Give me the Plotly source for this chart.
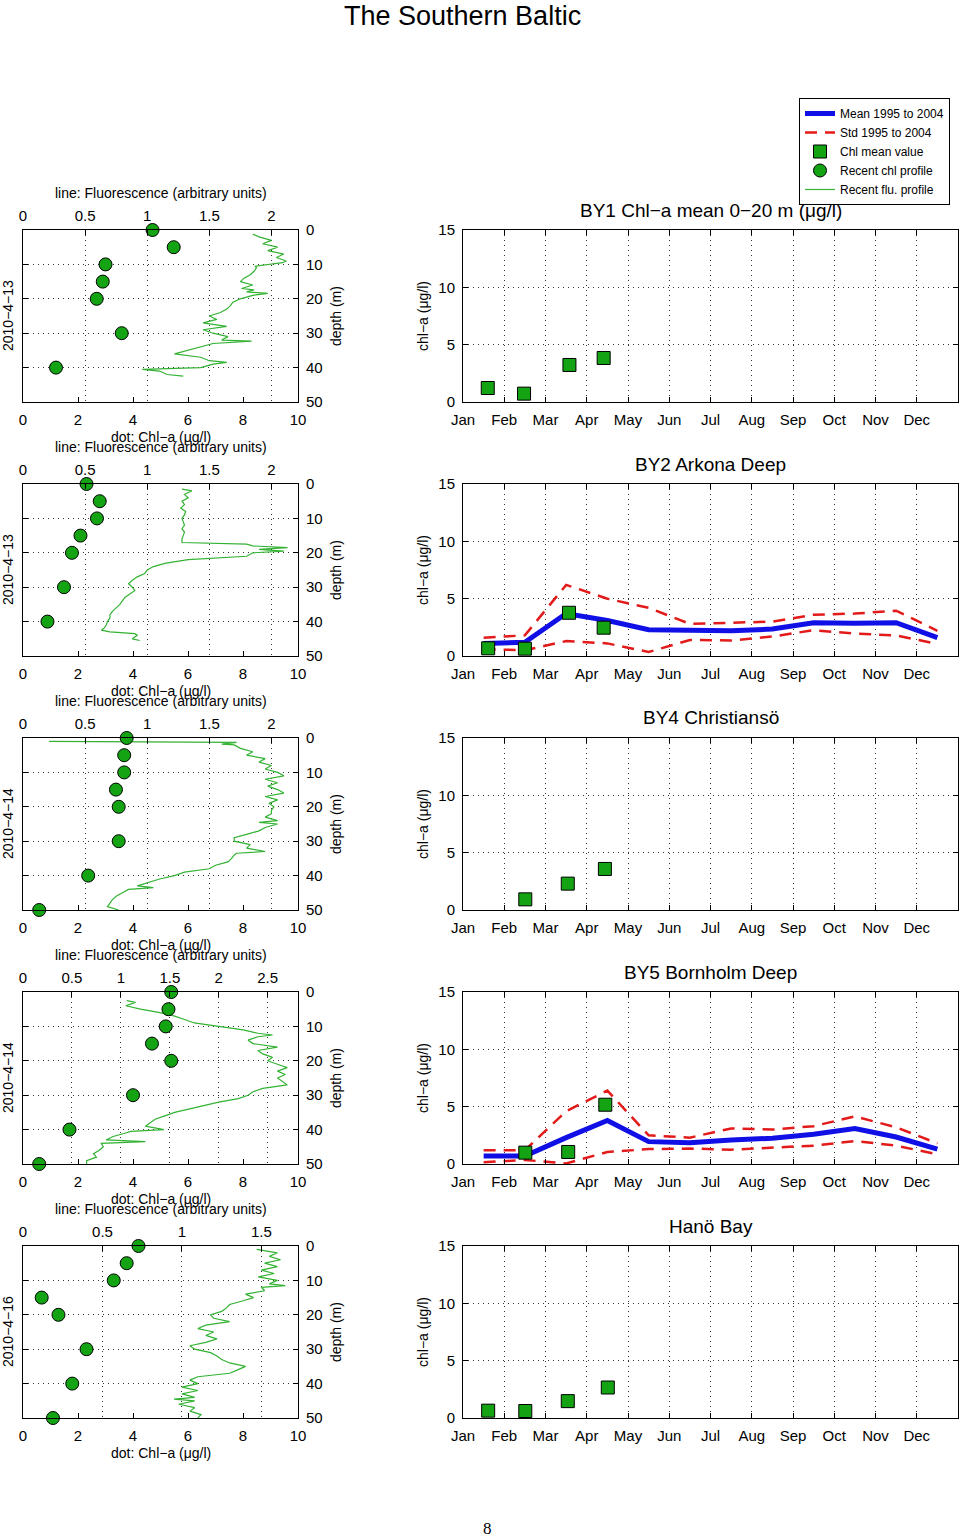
import plotly.graph_objects as go

W, H = 960, 1538

# ---------------- data ----------------
months = ["Jan", "Feb", "Mar", "Apr", "May", "Jun", "Jul", "Aug", "Sep", "Oct", "Nov", "Dec"]
month_pos = [0, 1, 2, 3, 4, 5, 6, 7, 8, 9, 10, 11]
month_mid = [0.5, 1.5, 2.5, 3.5, 4.5, 5.5, 6.5, 7.5, 8.5, 9.5, 10.5, 11.5]

station_titles = ["BY1 Chl−a mean 0−20 m (μg/l)", "BY2 Arkona Deep", "BY4 Christiansö",
                  "BY5 Bornholm Deep", "Hanö Bay"]
profile_dates = ["2010−4−13", "2010−4−13", "2010−4−14", "2010−4−14", "2010−4−16"]

# Recent chl profile (dots): depth (m) and Chl-a (µg/l)
chl_depth_1 = [0, 5, 10, 15, 20, 30, 40]
chl_value_1 = [4.71, 5.48, 3.0, 2.9, 2.68, 3.59, 1.2]
chl_depth_2 = [0, 5, 10, 15, 20, 30, 40]
chl_value_2 = [2.31, 2.79, 2.69, 2.09, 1.78, 1.49, 0.89]
chl_depth_3 = [0, 5, 10, 15, 20, 30, 40, 50]
chl_value_3 = [3.77, 3.68, 3.68, 3.38, 3.48, 3.48, 2.37, 0.59]
chl_depth_4 = [0, 5, 10, 15, 20, 30, 40, 50]
chl_value_4 = [5.39, 5.29, 5.19, 4.69, 5.39, 4.0, 1.69, 0.59]
chl_depth_5 = [0, 5, 10, 15, 20, 30, 40, 50]
chl_value_5 = [4.2, 3.77, 3.3, 0.68, 1.29, 2.31, 1.79, 1.09]

# Recent fluorescence profile (lines): depth (m) and fluorescence (arbitrary units)
flu_depth_1 = [1.2, 2, 3, 4, 5, 6, 7, 8, 9, 9.5, 10.5, 11, 12, 13, 14, 15, 16, 17, 17.4, 18, 18.4,
               19, 20, 21, 22, 23, 24, 25, 26, 27, 28, 29, 30, 31, 32, 32.3, 33, 34, 35, 36, 37, 38,
               38.5, 39, 40, 40.5, 41, 42, 42.5]
flu_value_1 = [1.85, 1.9, 2.0, 1.93, 2.05, 1.97, 2.1, 2.04, 2.12, 2.09, 1.87, 1.88, 1.86, 1.83, 1.78,
               1.75, 1.85, 1.76, 1.86, 1.8, 1.97, 1.85, 1.75, 1.69, 1.67, 1.64, 1.59, 1.5, 1.56, 1.45,
               1.64, 1.45, 1.53, 1.65, 1.6, 1.84, 1.53, 1.43, 1.34, 1.22, 1.43, 1.5, 1.64, 1.53, 1.43,
               0.96, 1.1, 1.16, 1.29]
flu_depth_2 = [1.5, 2, 3, 4, 5, 6, 7, 8, 9, 10, 11, 12, 13, 14, 15, 16, 17, 17.5, 18, 18.5, 19, 19.5,
               20, 21, 22, 23, 24, 25, 26, 27, 28, 29, 30, 31, 32, 33, 34, 35, 36, 37, 38, 39, 40, 41,
               42, 42.5, 43, 43.5, 44, 45, 45.5]
flu_value_2 = [1.28, 1.36, 1.3, 1.33, 1.28, 1.3, 1.27, 1.31, 1.3, 1.28, 1.29, 1.3, 1.28, 1.3, 1.29,
               1.28, 1.28, 1.8, 1.85, 2.13, 1.9, 2.1, 1.85, 1.8, 1.33, 1.15, 1.05, 1.0, 0.98, 0.92, 0.88,
               0.85, 0.88, 0.9, 0.86, 0.82, 0.8, 0.78, 0.75, 0.72, 0.7, 0.7, 0.68, 0.67, 0.65, 0.63, 0.7,
               0.9, 0.92, 0.88, 0.94]
flu_depth_3 = [1.0, 1.3, 1.8, 2, 3, 4, 5, 6, 7, 8, 9, 10, 11, 12, 13, 14, 15, 16, 17, 18, 19, 20, 21,
               22, 23, 24, 24.5, 25, 26, 27, 28, 29, 30, 30.5, 31, 32, 33, 33.5, 34, 35, 36, 37, 38, 39,
               40, 41, 42, 43, 43.5, 44, 45, 46, 47, 48, 49, 50]
flu_value_3 = [0.21, 1.72, 1.6, 1.7, 1.75, 1.85, 1.8, 1.95, 1.9, 2.0, 1.95, 2.05, 2.1, 1.95, 2.05,
               1.97, 2.05, 2.1, 1.95, 2.05, 1.98, 2.02, 2.0, 2.0, 1.95, 2.05, 1.9, 2.05, 1.95, 1.9, 1.8,
               1.7, 1.7, 1.77, 1.83, 1.8, 1.95, 1.72, 1.7, 1.68, 1.65, 1.55, 1.5, 1.3, 1.22, 1.1, 1.0,
               0.92, 1.05, 0.85, 0.8, 0.75, 0.72, 0.7, 0.68, 0.77]
flu_depth_4 = [2.5, 3, 4, 5, 6, 7, 8, 9, 10, 11, 12, 12.5, 13, 14, 15, 16, 17, 18, 19, 20, 21, 22, 23,
               24, 25, 26, 27, 28, 29, 30, 31, 32, 33, 34, 35, 36, 37, 38, 39, 40, 40.5, 41, 42, 43,
               43.5, 44, 45, 46, 47, 48, 49, 50]
flu_value_4 = [1.06, 1.15, 1.05, 1.2, 1.4, 1.55, 1.65, 1.75, 2.0, 2.25, 2.4, 2.55, 2.4, 2.3, 2.35,
               2.6, 2.4, 2.45, 2.55, 2.5, 2.6, 2.7, 2.6, 2.68, 2.6, 2.65, 2.7, 2.45, 2.35, 2.3, 2.2,
               2.0, 1.85, 1.7, 1.55, 1.45, 1.35, 1.3, 1.25, 1.44, 1.1, 1.05, 0.92, 0.85, 1.25, 0.8,
               0.82, 0.78, 0.72, 0.75, 0.65, 0.65]
flu_depth_5 = [1, 2, 3, 4, 5, 6, 7, 8, 9, 10, 11, 11.5, 12, 13, 14, 15, 16, 17, 18, 19, 20, 21, 22,
               23, 24, 25, 26, 27, 28, 29, 30, 31, 32, 33, 34, 35, 36, 37, 38, 39, 40, 41, 42, 43, 44,
               44.5, 45, 46, 47, 48, 49, 50]
flu_value_5 = [1.47, 1.6, 1.55, 1.62, 1.52, 1.6, 1.5, 1.58, 1.48, 1.6, 1.55, 1.65, 1.5, 1.52, 1.4,
               1.45, 1.38, 1.3, 1.28, 1.25, 1.18, 1.2, 1.3, 1.15, 1.1, 1.2, 1.15, 1.22, 1.15, 1.05,
               1.08, 1.18, 1.22, 1.25, 1.3, 1.4, 1.35, 1.3, 1.1, 1.05, 1.1, 1.0, 1.1, 1.0, 1.08, 0.95,
               1.08, 0.98, 1.08, 1.05, 1.12, 1.1]

flu_axis_max = [2.214, 2.214, 2.214, 2.81, 1.73]

# Chl mean value (squares): month position and value
sq_month_1 = [0.6, 1.48, 2.58, 3.41]
sq_value_1 = [1.22, 0.73, 3.23, 3.84]
sq_month_2 = [0.61, 1.5, 2.57, 3.41]
sq_value_2 = [0.67, 0.64, 3.77, 2.47]
sq_month_3 = [1.51, 2.54, 3.44]
sq_value_3 = [0.93, 2.3, 3.58]
sq_month_4 = [1.51, 2.55, 3.45]
sq_value_4 = [0.99, 1.05, 5.17]
sq_month_5 = [0.61, 1.51, 2.54, 3.51]
sq_value_5 = [0.64, 0.61, 1.47, 2.66]

# Mean and std 1995-2004 (BY2 and BY5)
by2_mean = [1.1, 1.2, 3.7, 3.1, 2.3, 2.2, 2.2, 2.35, 2.9, 2.85, 2.9, 1.6]
by2_upper = [1.6, 1.8, 6.2, 5.0, 4.2, 2.8, 2.9, 3.0, 3.6, 3.7, 3.95, 2.2]
by2_lower = [0.6, 0.5, 1.3, 1.1, 0.35, 1.4, 1.35, 1.7, 2.25, 1.95, 1.8, 1.05]
by5_mean = [0.7, 0.7, 2.3, 3.8, 1.95, 1.85, 2.1, 2.25, 2.6, 3.1, 2.35, 1.3]
by5_upper = [1.2, 1.2, 4.6, 6.4, 2.5, 2.3, 3.1, 3.0, 3.3, 4.15, 3.2, 1.8]
by5_lower = [0.15, 0.35, 0.05, 1.05, 1.3, 1.35, 1.25, 1.45, 1.6, 2.0, 1.6, 0.85]

chl_depths = [chl_depth_1, chl_depth_2, chl_depth_3, chl_depth_4, chl_depth_5]
chl_values = [chl_value_1, chl_value_2, chl_value_3, chl_value_4, chl_value_5]
flu_depths = [flu_depth_1, flu_depth_2, flu_depth_3, flu_depth_4, flu_depth_5]
flu_values = [flu_value_1, flu_value_2, flu_value_3, flu_value_4, flu_value_5]
sq_months = [sq_month_1, sq_month_2, sq_month_3, sq_month_4, sq_month_5]
sq_values = [sq_value_1, sq_value_2, sq_value_3, sq_value_4, sq_value_5]
stats = {1: (by2_mean, by2_upper, by2_lower), 3: (by5_mean, by5_upper, by5_lower)}

# ---------------- styling ----------------
FONT = "Liberation Sans, Arial, Helvetica, sans-serif"
GREEN = "#13a313"
FLU_GREEN = "#33b233"
BLUE = "#1010e6"
RED = "#e31a1a"
GRID = dict(showgrid=True, gridcolor="#333333", gridwidth=1, griddash="1px,4px")
AX = dict(showline=True, linecolor="black", linewidth=1, ticks="inside", ticklen=5,
          tickcolor="black", zeroline=False, tickfont=dict(size=15, family=FONT, color="black"))

LX0, LX1 = 23, 298
RX0, RX1 = 463, 958


def px(x):
    return x / W


def py(y):
    return 1 - y / H


def ydom(k):
    top = 230 + 254 * k
    return [py(top + 172), py(top)]


fig = go.Figure()
layout = dict(width=W, height=H, margin=dict(l=0, r=0, t=0, b=0, autoexpand=False),
              paper_bgcolor="white", plot_bgcolor="white",
              font=dict(family=FONT, size=15, color="black"))
annotations = []

for k in range(5):
    xf, xc, xr = 3 * k + 1, 3 * k + 2, 3 * k + 3
    yl, yr = 2 * k + 1, 2 * k + 2
    sxf = "x" if xf == 1 else f"x{xf}"
    syl = "y" if yl == 1 else f"y{yl}"
    top = 230 + 254 * k
    bot = top + 172

    # fluorescence line (base subplot)
    fig.add_trace(go.Scatter(x=flu_values[k], y=flu_depths[k], mode="lines",
                             line=dict(color=FLU_GREEN, width=1.2),
                             xaxis=sxf, yaxis=syl, name="Recent flu. profile",
                             showlegend=(k == 0), legendrank=5))
    # chl dots (overlay subplot)
    fig.add_trace(go.Scatter(x=chl_values[k], y=chl_depths[k], mode="markers",
                             marker=dict(symbol="circle", size=13, color=GREEN,
                                         line=dict(color="black", width=1)),
                             xaxis=f"x{xc}", yaxis=syl, name="Recent chl profile",
                             showlegend=(k == 0), legendrank=4, cliponaxis=False))

    # right panel: mean / std
    if k in stats:
        mean_v, up_v, lo_v = stats[k]
        fig.add_trace(go.Scatter(x=month_mid, y=up_v, mode="lines",
                                 line=dict(color=RED, width=2.5, dash="12px,8px"),
                                 xaxis=f"x{xr}", yaxis=f"y{yr}", name="Std 1995 to 2004",
                                 showlegend=(k == 1), legendrank=2))
        fig.add_trace(go.Scatter(x=month_mid, y=lo_v, mode="lines",
                                 line=dict(color=RED, width=2.5, dash="12px,8px"),
                                 xaxis=f"x{xr}", yaxis=f"y{yr}", name="Std 1995 to 2004",
                                 showlegend=False))
        fig.add_trace(go.Scatter(x=month_mid, y=mean_v, mode="lines",
                                 line=dict(color=BLUE, width=5),
                                 xaxis=f"x{xr}", yaxis=f"y{yr}", name="Mean 1995 to 2004",
                                 showlegend=(k == 1), legendrank=1))
    fig.add_trace(go.Scatter(x=sq_months[k], y=sq_values[k], mode="markers",
                             marker=dict(symbol="square", size=13, color=GREEN,
                                         line=dict(color="black", width=1)),
                             xaxis=f"x{xr}", yaxis=f"y{yr}", name="Chl mean value",
                             showlegend=(k == 0), legendrank=3))

    # axes
    layout["xaxis" if xf == 1 else f"xaxis{xf}"] = dict(
        AX, **GRID, domain=[px(LX0), px(LX1)], anchor=syl, side="top",
        range=[0, flu_axis_max[k]], dtick=0.5, tick0=0, mirror=True, ticklabelstandoff=2)
    layout[f"xaxis{xc}"] = dict(
        AX, showgrid=False, overlaying=sxf, anchor=syl, side="bottom",
        range=[0, 10], dtick=2, tick0=0, ticklabelstandoff=4)
    layout["yaxis" if yl == 1 else f"yaxis{yl}"] = dict(
        AX, **GRID, domain=ydom(k), anchor=sxf, side="right", range=[50, 0],
        dtick=10, tick0=0, mirror="ticks", ticklabelstandoff=4)
    layout[f"xaxis{xr}"] = dict(
        AX, **GRID, domain=[px(RX0), px(RX1)], anchor=f"y{yr}", range=[0, 12],
        tickmode="array", tickvals=month_pos, ticktext=months, mirror="ticks",
        ticklabelstandoff=4)
    layout[f"yaxis{yr}"] = dict(
        AX, **GRID, domain=ydom(k), anchor=f"x{xr}", range=[0, 15], dtick=5, tick0=0,
        mirror="ticks", ticklabelstandoff=4)

    # texts
    cx = (LX0 + LX1) / 2
    annotations.append(dict(text="line: Fluorescence (arbitrary units)", x=px(cx), y=py(top - 37),
                            xref="paper", yref="paper", showarrow=False,
                            font=dict(size=14, family=FONT), xanchor="center", yanchor="middle"))
    annotations.append(dict(text="dot: Chl−a (μg/l)", x=px(cx), y=py(bot + 35),
                            xref="paper", yref="paper", showarrow=False,
                            font=dict(size=14, family=FONT), xanchor="center", yanchor="middle"))
    annotations.append(dict(text=profile_dates[k], x=px(8), y=py((top + bot) / 2),
                            xref="paper", yref="paper", showarrow=False, textangle=-90,
                            font=dict(size=14, family=FONT), xanchor="center", yanchor="middle"))
    annotations.append(dict(text="depth (m)", x=px(336), y=py((top + bot) / 2),
                            xref="paper", yref="paper", showarrow=False, textangle=-90,
                            font=dict(size=14, family=FONT), xanchor="center", yanchor="middle"))
    annotations.append(dict(text="chl−a (μg/l)", x=px(423), y=py((top + bot) / 2),
                            xref="paper", yref="paper", showarrow=False, textangle=-90,
                            font=dict(size=14, family=FONT), xanchor="center", yanchor="middle"))
    annotations.append(dict(text=station_titles[k], x=px((RX0 + RX1) / 2), y=py(top - 20),
                            xref="paper", yref="paper", showarrow=False,
                            font=dict(size=19, family=FONT), xanchor="center", yanchor="middle"))

annotations.append(dict(text="The Southern Baltic", x=px(462), y=py(16), xref="paper", yref="paper",
                        showarrow=False, font=dict(size=27, family=FONT),
                        xanchor="center", yanchor="middle"))
annotations.append(dict(text="8", x=px(487), y=py(1528), xref="paper", yref="paper",
                        showarrow=False, font=dict(size=17, family="Liberation Serif, Times New Roman, serif"),
                        xanchor="center", yanchor="middle"))

layout["annotations"] = annotations
layout["showlegend"] = True
layout["legend"] = dict(x=px(799), y=py(98), xanchor="left", yanchor="top",
                        bordercolor="black", borderwidth=1, bgcolor="white",
                        font=dict(size=12, family=FONT, color="black"),
                        itemwidth=30, tracegroupgap=0, traceorder="normal")
fig.update_layout(**layout)

fig.write_html("out.html", config={"displayModeBar": False},
               post_script="document.body.style.margin='0px';")
